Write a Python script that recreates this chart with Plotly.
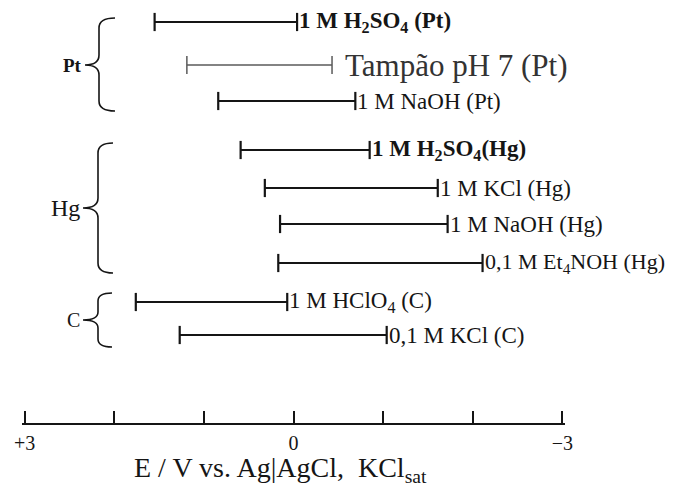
import plotly.graph_objects as go

# ---------------- data ----------------
labels = [
    "<b>1 M H<sub>2</sub>SO<sub>4</sub> (Pt)</b>",
    "Tampão pH 7 (Pt)",
    "1 M NaOH (Pt)",
    "<b>1 M H<sub>2</sub>SO<sub>4</sub>(Hg)</b>",
    "1 M KCl (Hg)",
    "1 M NaOH (Hg)",
    "0,1 M Et<sub>4</sub>NOH (Hg)",
    "1 M HClO<sub>4</sub> (C)",
    "0,1 M KCl (C)",
]
e_anodic = [1.55, 1.19, 0.84, 0.59, 0.32, 0.15, 0.17, 1.76, 1.27]          # left end (V)
e_cathodic = [-0.04, -0.43, -0.69, -0.85, -1.61, -1.72, -2.11, 0.07, -1.04]  # right end (V)
groups = ["Pt", "Hg", "C"]
tick_vals = [3, 2, 1, 0, -1, -2, -3]
tick_text = ["+3", "", "", "0", "", "", "\u22123"]
x_title = "E / V vs. Ag|AgCl,  KCl<sub>sat</sub>"

# ---------------- layout ----------------
W, H = 684, 486
OFF = 8                       # page margin of the html body
ML, MR, MT, MB = 14, 127, 0, 71
AXIS_Y = 423                  # page y of the axis line
row_y = [22, 65, 101, 150, 188, 224, 263, 302, 335]   # vertical slot of each row (page px)
Y_RANGE = [AXIS_Y, OFF]
SERIF = "Liberation Serif, Times New Roman, serif"
INK = "#151515"
label_size = [23, 31, 23, 23, 23, 23, 22, 23, 23]

def px2paper(px):
    return (px - OFF - ML) / (W - ML - MR)

def py2paper(py):
    return (AXIS_Y - py) / (AXIS_Y - OFF)

fig = go.Figure()
for i, lab in enumerate(labels):
    thin = i == 1
    col = "#5a5a5a" if thin else INK
    fig.add_trace(go.Scatter(
        x=[e_anodic[i], e_cathodic[i]], y=[row_y[i], row_y[i]],
        mode="lines+markers",
        line=dict(color=col, width=1.3 if thin else 2.2),
        marker=dict(symbol="line-ns-open", size=13,
                    line=dict(color=col, width=1.5 if thin else 2.2)),
        hoverinfo="skip", showlegend=False, cliponaxis=False,
    ))
    fig.add_annotation(
        x=e_cathodic[i], y=row_y[i], xref="x", yref="y",
        text=lab, showarrow=False, xanchor="left", yanchor="middle",
        xshift=11 if thin else 0,
        font=dict(family=SERIF, size=label_size[i],
                  color="#333333" if thin else INK),
    )

# braces (pixel geometry of the decoration left of the plot)
brace_geom = [  # x_end, x_vertical, x_tip, top, tip_y, bottom, radius
    (115, 99, 85, 18, 65, 111, 10),
    (113, 98, 83, 143, 208, 273, 10),
    (112, 98, 83, 293, 320, 347, 8),
]
group_font = [19, 24, 20]
for g, (xr, xv, xt, y0, ym, y1, r), fs in zip(groups, brace_geom, group_font):
    pr, pv, pt = px2paper(xr), px2paper(xv), px2paper(xt)
    path = (f"M {pr},{y0} Q {pv},{y0} {pv},{y0 + r} L {pv},{ym - r} "
            f"Q {pv},{ym} {pt},{ym} Q {pv},{ym} {pv},{ym + r} "
            f"L {pv},{y1 - r} Q {pv},{y1} {pr},{y1}")
    fig.add_shape(type="path", path=path, xref="paper", yref="y",
                  line=dict(color=INK, width=1.6), layer="above")
    fig.add_annotation(x=px2paper(xt - 1), y=ym, xref="paper", yref="y",
                       text=f"<b>{g}</b>" if g == "Pt" else g, showarrow=False,
                       xanchor="right", yanchor="middle",
                       font=dict(family=SERIF, size=fs, color=INK))

fig.add_annotation(
    x=px2paper(280), y=py2paper(469), xref="paper", yref="paper",
    text=x_title, showarrow=False,
    xanchor="center", yanchor="middle",
    font=dict(family=SERIF, size=28, color=INK),
)

fig.update_xaxes(
    range=[3.03, -3.03], showgrid=False, zeroline=False,
    showline=True, linecolor=INK, linewidth=1.6,
    ticks="inside", ticklen=12, tickwidth=1.6, tickcolor=INK,
    tickvals=tick_vals, ticktext=tick_text,
    tickfont=dict(family=SERIF, size=20, color=INK),
    ticklabelstandoff=1,
)
fig.update_yaxes(range=Y_RANGE, visible=False, showgrid=False, zeroline=False)
fig.update_layout(
    width=W, height=H, margin=dict(l=ML, r=MR, t=MT, b=MB),
    plot_bgcolor="white", paper_bgcolor="white",
)
fig.write_html("out.html")
